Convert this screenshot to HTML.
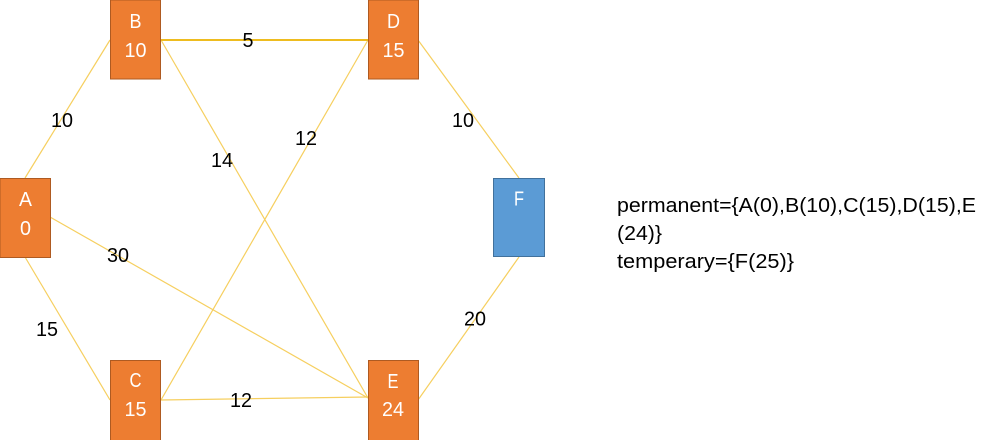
<!DOCTYPE html>
<html>
<head>
<meta charset="utf-8">
<style>
html,body{margin:0;padding:0;background:#fff;}
svg{display:block;}
text{font-family:"Liberation Sans",sans-serif;}
.n{fill:#fff;font-size:20px;text-anchor:middle;}
.l{fill:#000;font-size:20px;text-anchor:middle;}
.t{fill:#000;font-size:20px;}
</style>
</head>
<body>
<svg width="995" height="440" viewBox="0 0 995 440" xmlns="http://www.w3.org/2000/svg">
<rect width="995" height="440" fill="#fff"/>
<g stroke="#f6cf5f" stroke-width="1.2" fill="none">
<line x1="25" y1="178" x2="110" y2="40"/>
<line x1="161" y1="40" x2="368" y2="398"/>
<line x1="368" y1="40" x2="161" y2="400"/>
<line x1="161" y1="400" x2="368" y2="397"/>
<line x1="50" y1="217" x2="368" y2="398"/>
<line x1="25" y1="257" x2="110" y2="400"/>
<line x1="418" y1="40" x2="519" y2="178"/>
<line x1="519" y1="257" x2="418" y2="400"/>
</g>
<line x1="161" y1="40" x2="368" y2="40" stroke="#eebc1f" stroke-width="2"/>
<g fill="#ed7d31" stroke="#ae5a21" stroke-width="1">
<rect x="110.5" y="0" width="50" height="79"/>
<rect x="0" y="178.5" width="50.5" height="79"/>
<rect x="110.5" y="360.5" width="50" height="80"/>
<rect x="368.5" y="0" width="50" height="79"/>
<rect x="368.5" y="360.5" width="50" height="80"/>
</g>
<rect x="493.5" y="178.5" width="51" height="78" fill="#5b9bd5" stroke="#41719c" stroke-width="1"/>
<g class="nodes">
<text class="n" x="135.5" y="28" textLength="12" lengthAdjust="spacingAndGlyphs">B</text>
<text class="n" x="135.5" y="57" textLength="22" lengthAdjust="spacingAndGlyphs">10</text>
<text class="n" x="25.5" y="206" textLength="13" lengthAdjust="spacingAndGlyphs">A</text>
<text class="n" x="25.5" y="235" textLength="11" lengthAdjust="spacingAndGlyphs">0</text>
<text class="n" x="135.5" y="387" textLength="12" lengthAdjust="spacingAndGlyphs">C</text>
<text class="n" x="135.5" y="416" textLength="22" lengthAdjust="spacingAndGlyphs">15</text>
<text class="n" x="393.5" y="28" textLength="13" lengthAdjust="spacingAndGlyphs">D</text>
<text class="n" x="393.5" y="57" textLength="22" lengthAdjust="spacingAndGlyphs">15</text>
<text class="n" x="393" y="388" textLength="11" lengthAdjust="spacingAndGlyphs">E</text>
<text class="n" x="393" y="416" textLength="22" lengthAdjust="spacingAndGlyphs">24</text>
<text class="n" x="519" y="205.5" textLength="10" lengthAdjust="spacingAndGlyphs">F</text>
</g>
<g>
<text class="l" x="248" y="47" textLength="11" lengthAdjust="spacingAndGlyphs">5</text>
<text class="l" x="62" y="127" textLength="22" lengthAdjust="spacingAndGlyphs">10</text>
<text class="l" x="222" y="167" textLength="22" lengthAdjust="spacingAndGlyphs">14</text>
<text class="l" x="306" y="145" textLength="22" lengthAdjust="spacingAndGlyphs">12</text>
<text class="l" x="463" y="127" textLength="22" lengthAdjust="spacingAndGlyphs">10</text>
<text class="l" x="118" y="262" textLength="22" lengthAdjust="spacingAndGlyphs">30</text>
<text class="l" x="47" y="336" textLength="22" lengthAdjust="spacingAndGlyphs">15</text>
<text class="l" x="475" y="325.5" textLength="22" lengthAdjust="spacingAndGlyphs">20</text>
<text class="l" x="241" y="407" textLength="22" lengthAdjust="spacingAndGlyphs">12</text>
</g>
<text class="t" x="617" y="212" textLength="359" lengthAdjust="spacingAndGlyphs">permanent={A(0),B(10),C(15),D(15),E</text>
<text class="t" x="617" y="240" textLength="45" lengthAdjust="spacingAndGlyphs">(24)}</text>
<text class="t" x="617" y="268" textLength="177" lengthAdjust="spacingAndGlyphs">temperary={F(25)}</text>
</svg>
</body>
</html>
